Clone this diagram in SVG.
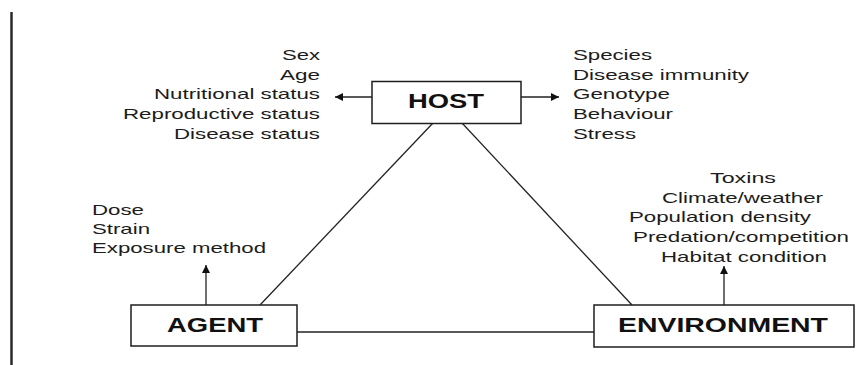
<svg xmlns="http://www.w3.org/2000/svg" width="867" height="365" viewBox="0 0 867 365">
  <style>
    .box { fill: #ffffff; stroke: #1e1e1e; stroke-width: 1.5; }
    .link { fill: none; stroke: #222222; stroke-width: 1.3; }
    .arrow { fill: none; stroke: #222222; stroke-width: 1.3; marker-end: url(#head); }
    .label { font-family: "Liberation Sans", Arial, sans-serif; font-weight: bold; font-size: 21px; fill: #111111; }
    .item { font-family: "Liberation Sans", Arial, sans-serif; font-size: 15px; fill: #1c1c1c; }
    .right { text-anchor: end; }
  </style>
  <defs>
    <marker id="head" viewBox="0 0 10 10" refX="10" refY="5" markerWidth="8" markerHeight="8" markerUnits="userSpaceOnUse" orient="auto">
      <path d="M0,0 L10,5 L0,10 z" fill="#111111"/>
    </marker>
  </defs>

  <rect width="867" height="365" fill="#ffffff"/>

  <!-- page margin rule -->
  <line x1="11.5" y1="12" x2="11.5" y2="365" stroke="#2a2a2a" stroke-width="2.5"/>

  <!-- connectors -->
  <g id="connectors">
    <line class="link" x1="433" y1="123" x2="260" y2="305"/>
    <line class="link" x1="462" y1="123" x2="632" y2="305"/>
    <line class="link" x1="297" y1="332" x2="594" y2="332"/>
    <line class="arrow" x1="372" y1="97" x2="335" y2="97"/>
    <line class="arrow" x1="521" y1="97" x2="559" y2="97"/>
    <line class="arrow" x1="206" y1="305" x2="206" y2="265"/>
    <line class="arrow" x1="724" y1="305" x2="724" y2="266"/>
  </g>

  <g id="host">
    <rect class="box" x="372" y="81.5" width="149" height="42"/>
    <text class="label" x="408" y="108" textLength="76" lengthAdjust="spacingAndGlyphs">HOST</text>
  </g>

  <g id="agent">
    <rect class="box" x="131" y="305" width="166" height="41"/>
    <text class="label" x="167" y="332" textLength="96" lengthAdjust="spacingAndGlyphs">AGENT</text>
  </g>

  <g id="environment">
    <rect class="box" x="594" y="305" width="260" height="42"/>
    <text class="label" x="618" y="332" textLength="210" lengthAdjust="spacingAndGlyphs">ENVIRONMENT</text>
  </g>

  <g id="host-individual-factors">
    <text class="item right" x="320" y="60" textLength="38" lengthAdjust="spacingAndGlyphs">Sex</text>
    <text class="item right" x="320" y="80" textLength="40" lengthAdjust="spacingAndGlyphs">Age</text>
    <text class="item right" x="320" y="99" textLength="166" lengthAdjust="spacingAndGlyphs">Nutritional status</text>
    <text class="item right" x="320" y="119" textLength="197" lengthAdjust="spacingAndGlyphs">Reproductive status</text>
    <text class="item right" x="320" y="139" textLength="146" lengthAdjust="spacingAndGlyphs">Disease status</text>
  </g>

  <g id="host-population-factors">
    <text class="item" x="573" y="60" textLength="79" lengthAdjust="spacingAndGlyphs">Species</text>
    <text class="item" x="573" y="80" textLength="176" lengthAdjust="spacingAndGlyphs">Disease immunity</text>
    <text class="item" x="573" y="99" textLength="97" lengthAdjust="spacingAndGlyphs">Genotype</text>
    <text class="item" x="573" y="119" textLength="100" lengthAdjust="spacingAndGlyphs">Behaviour</text>
    <text class="item" x="573" y="139" textLength="63" lengthAdjust="spacingAndGlyphs">Stress</text>
  </g>

  <g id="agent-factors">
    <text class="item" x="92" y="215" textLength="52" lengthAdjust="spacingAndGlyphs">Dose</text>
    <text class="item" x="92" y="234" textLength="58" lengthAdjust="spacingAndGlyphs">Strain</text>
    <text class="item" x="92" y="253" textLength="174" lengthAdjust="spacingAndGlyphs">Exposure method</text>
  </g>

  <g id="environment-factors">
    <text class="item" x="710" y="183" textLength="66" lengthAdjust="spacingAndGlyphs">Toxins</text>
    <text class="item" x="662" y="203" textLength="161" lengthAdjust="spacingAndGlyphs">Climate/weather</text>
    <text class="item" x="629" y="222" textLength="182" lengthAdjust="spacingAndGlyphs">Population density</text>
    <text class="item" x="633" y="242" textLength="216" lengthAdjust="spacingAndGlyphs">Predation/competition</text>
    <text class="item" x="661" y="262" textLength="166" lengthAdjust="spacingAndGlyphs">Habitat condition</text>
  </g>
</svg>
